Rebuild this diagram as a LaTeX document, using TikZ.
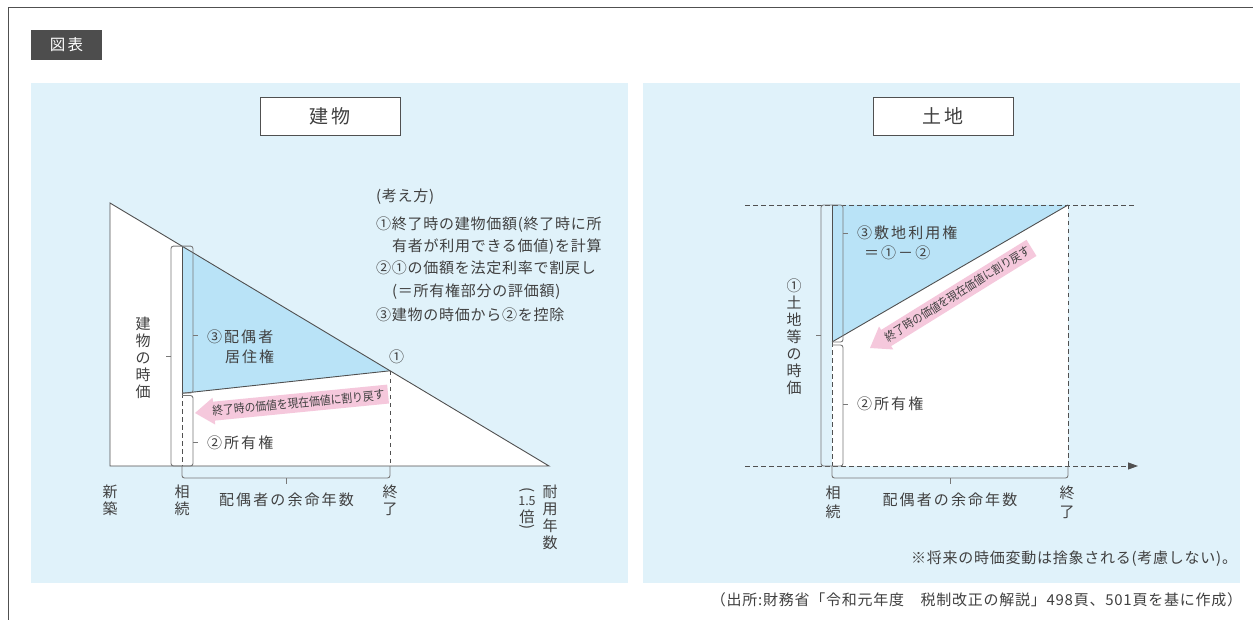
\documentclass[tikz,border=0pt]{standalone}
\usepackage{fontspec}
\usepackage{graphicx}
\newfontfamily\jp{Noto Sans CJK JP}
\newfontfamily\jpls[LetterSpace=14]{Noto Sans CJK JP}
\newfontfamily\jpsm[LetterSpace=5]{Noto Sans CJK JP}
\usetikzlibrary{arrows.meta}
\definecolor{panel}{RGB}{224,242,250}
\definecolor{bluef}{RGB}{185,227,247}
\definecolor{pinkf}{RGB}{245,200,220}
\definecolor{txt}{RGB}{64,64,64}
\definecolor{ln}{RGB}{80,80,80}
\definecolor{brc}{RGB}{120,120,120}
\definecolor{tagbg}{RGB}{77,77,77}
\begin{document}
\begin{tikzpicture}[x=1pt,y=-1pt,
  every node/.style={inner sep=0pt, outer sep=0pt, text=txt},
  lbl/.style={font=\jpls\fontsize{15}{17}\selectfont, anchor=west},
  expl/.style={font=\jpsm\fontsize{15}{17}\selectfont, anchor=west},
  vtxt/.style={font=\jp\fontsize{15}{17}\selectfont, align=center},
  edgeln/.style={draw=ln, line width=0.9pt},
  dashln/.style={draw=ln, line width=0.9pt, dash pattern=on 4.5pt off 3.5pt},
  bracec/.style={draw=brc, line width=0.9pt, rounded corners=2.5pt},
  titlebox/.style={draw=ln, fill=white, line width=1pt, minimum width=140pt, minimum height=38pt, font=\jpls\fontsize{19}{22}\selectfont},
  arrtxt/.style={font=\jp\fontsize{12}{13}\selectfont}
]
\useasboundingbox (0,0) rectangle (1253,620);
% frame
\draw[ln, line width=1.6pt] (8.5,620) -- (8.5,7.5) -- (1253,7.5);
% tag
\node[fill=tagbg, minimum width=71pt, minimum height=30pt, text=white, font=\jpls\fontsize{15.5}{18}\selectfont] (tag) at (66.5,45) {図表};
% panels
\fill[panel] (31,83) rectangle (628,583);
\fill[panel] (643,83) rectangle (1240,583);
\node[titlebox] (t1) at (330,116.5) {建物};
\node[titlebox] (t2) at (943,116.5) {土地};

% ===== left chart =====
\coordinate (A) at (110,203);
\coordinate (B) at (549,466);
\coordinate (C) at (110,466);
\coordinate (P) at (182,246.1);
\coordinate (Q) at (390,370.8);
\coordinate (R) at (182,393.3);
\coordinate (S) at (182,466);
\coordinate (T) at (390,466);
\fill[white] (A) -- (B) -- (C) -- cycle;
\fill[bluef] (P) -- (Q) -- (R) -- cycle;
\draw[edgeln] (A) -- (B) -- (C) -- cycle;
\draw[edgeln] (R) -- (Q);
\draw[edgeln, line width=0.6pt] (P) -- (R);
\draw[dashln] (Q) -- (T);
\draw[dashln] (R) -- (S);
% braces
\draw[bracec] (P) -- (171,246.1) -- (171,466) -- (S);
\draw[brc, line width=0.9pt] (171,356.5) -- (166,356.5);
\draw[bracec] (P) -- (193,246.1) -- (193,393) -- (182,393);
\draw[brc, line width=0.9pt] (193,335) -- (198,335);
\draw[bracec] (182,395.5) -- (193,395.5) -- (193,466) -- (S);
\draw[brc, line width=0.9pt] (193,442.5) -- (198,442.5);
\draw[bracec] (S) -- (182,478) -- (390,478) -- (T);
\draw[brc, line width=0.9pt] (286.5,478) -- (286.5,484);
% pink arrow left
\begin{scope}[shift={(195,413)}, rotate=5.6]
  \fill[pinkf] (0,0) -- (19,-13.5) -- (19,-9.5) -- (194,-9.5) -- (194,9.5) -- (19,9.5) -- (19,13.5) -- cycle;
  \node[arrtxt, rotate=5.6] (a1) at (104,0) {\scalebox{0.9}[1]{終了時の価値を現在価値に割り戻す}};
\end{scope}
% labels
\node[lbl] (l3) at (207,336.5) {③配偶者};
\node[lbl] (l3b) at (225,357) {居住権};
\node[lbl] (l2) at (207,442.5) {②所有権};
\node[vtxt] (v1) at (143,358) {建\\物\\の\\時\\価};
\node[expl] (c1) at (389,357) {①};
\node[vtxt] (n1) at (110,500) {新\\築};
\node[vtxt] (n2) at (182,500) {相\\続};
\node[vtxt] (n3) at (390,500) {終\\了};
\node[lbl, anchor=center] (n4) at (286.5,500) {配偶者の余命年数};
\node[vtxt] (n5) at (550,517) {耐\\用\\年\\数};
\node[font=\jp\fontsize{15}{17}\selectfont, rotate=-90] (p1) at (527,490.5) {(};
\node[font=\jp\fontsize{12.5}{14}\selectfont] (p2) at (527,501.5) {1.5};
\node[vtxt] (p3) at (527,516.5) {倍};
\node[font=\jp\fontsize{15}{17}\selectfont, rotate=-90] (p4) at (527,527.5) {)};
% explanation
\node[expl] (e0) at (376,196.5) {(考え方)};
\node[expl] (e1) at (376,225) {①終了時の建物価額(終了時に所};
\node[expl] (e2) at (392,246.5) {有者が利用できる価値)を計算};
\node[expl] (e3) at (376,268) {②①の価額を法定利率で割戻し};
\node[expl] (e4) at (392,291.5) {(＝所有権部分の評価額)};
\node[expl] (e5) at (376,315) {③建物の時価から②を控除};

% ===== right chart =====
\coordinate (G) at (832,205);
\coordinate (H) at (1068,205);
\coordinate (K) at (832,342);
\coordinate (L) at (832,466);
\coordinate (M) at (1068,466);
\coordinate (D1) at (745,205);
\coordinate (D2) at (1135,205);
\coordinate (D3) at (745,466);
\coordinate (D4) at (1138,466);
\fill[white] (G) rectangle (M);
\fill[bluef] (G) -- (H) -- (K) -- cycle;
\draw[edgeln] (K) -- (H);
\draw[edgeln, line width=0.6pt] (G) -- (K);
\draw[dashln] (D1) -- (D2);
\draw[dashln, -{Triangle[length=10pt,width=7pt]}] (D3) -- (D4);
\draw[dashln] (K) -- (L);
\draw[dashln] (H) -- (M);
% braces
\draw[bracec] (G) -- (821,205) -- (821,466) -- (L);
\draw[brc, line width=0.9pt] (821,335) -- (816,335);
\draw[bracec] (G) -- (843,205) -- (843,342) -- (K);
\draw[brc, line width=0.9pt] (843,233) -- (848,233);
\draw[bracec] (832,345) -- (843,345) -- (843,466) -- (L);
\draw[brc, line width=0.9pt] (843,404) -- (848,404);
\draw[bracec] (L) -- (832,478) -- (1068,478) -- (M);
\draw[brc, line width=0.9pt] (950,478) -- (950,484);
% pink arrow right
\begin{scope}[shift={(870,348)}, rotate=31.8]
  \fill[pinkf] (0,0) -- (19,-13.5) -- (19,-9.5) -- (190,-9.5) -- (190,9.5) -- (19,9.5) -- (19,13.5) -- cycle;
  \node[arrtxt, rotate=31.8] (a2) at (103,0) {\scalebox{0.88}[1]{終了時の価値を現在価値に割り戻す}};
\end{scope}
% labels
\node[lbl] (r3) at (857,233) {③敷地利用権};
\node[lbl] (r3b) at (864,253) {＝①－②};
\node[lbl] (r2) at (857,404) {②所有権};
\node[vtxt] (v2) at (794,337) {①\\土\\地\\等\\の\\時\\価};
\node[font=\jp\fontsize{15}{19}\selectfont, align=center] (m1) at (833,502) {相\\続};
\node[lbl, anchor=center] (m2) at (950,500) {配偶者の余命年数};
\node[font=\jp\fontsize{15}{19}\selectfont, align=center] (m3) at (1067,502) {終\\了};
\node[expl, anchor=east] (note) at (1237,559) {※将来の時価変動は捨象される(考慮しない)。};
% footer
\node[expl, anchor=east] (src) at (1242,600) {（出所:財務省「令和元年度　税制改正の解説」498頁、501頁を基に作成）};
\end{tikzpicture}
\end{document}
